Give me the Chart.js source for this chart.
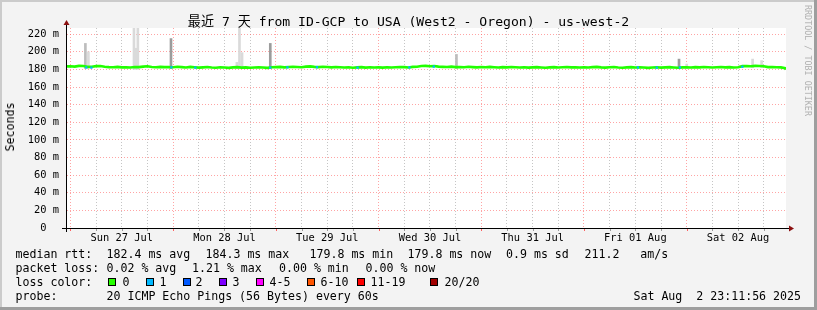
<!DOCTYPE html>
<html>
<head>
<meta charset="utf-8">
<script src="https://cdn.jsdelivr.net/npm/chart.js@4.4.1/dist/chart.umd.min.js"></script>
<style>
  html, body { margin: 0; padding: 0; background: #f3f3f3; }
  #wrap { position: relative; width: 817px; height: 310px; overflow: hidden;
          font-family: "DejaVu Sans Mono", "Noto Sans CJK SC", monospace; color: #000; }
  #wrap canvas { position: absolute; left: 0; top: 0; }
  .t { position: absolute; white-space: pre; font-size: 11.6px; line-height: 14px; }
  .box { position: absolute; width: 6px; height: 6px; border: 1px solid #000; }
  #title { position: absolute; left: 0; width: 817px; top: 14px; text-align: center;
           font-size: 13.1px; line-height: 16px; white-space: pre; }
  #ytitle { position: absolute; left: 10px; top: 127px; font-size: 11.6px; line-height: 14px;
            transform: translate(-50%, -50%) rotate(-90deg); white-space: pre; }
  #wm { position: absolute; left: 813px; top: 5px; font-size: 8.4px; line-height: 10px; color: #b0b0b0;
        transform-origin: left top; transform: rotate(90deg); white-space: pre; }
</style>
</head>
<body>
<div id="wrap">
  <canvas id="chart" width="817" height="310"></canvas>
  <div id="title">最近 7 天 from ID-GCP to USA (West2 - Oregon) - us-west-2</div>
  <div id="ytitle">Seconds</div>
  <div id="wm">RRDTOOL / TOBI OETIKER</div>
  <div id="footer"></div>
</div>
<script>
window.addEventListener('DOMContentLoaded', () => {
  /* data */
  const dayLabels = ['Sun 27 Jul', 'Mon 28 Jul', 'Tue 29 Jul', 'Wed 30 Jul', 'Thu 31 Jul', 'Fri 01 Aug', 'Sat 02 Aug'];
  const yTickValues = [0, 20, 40, 60, 80, 100, 120, 140, 160, 180, 200, 220];
  const yTickLabels = ['0  ', '20 m', '40 m', '60 m', '80 m', '100 m', '120 m', '140 m', '160 m', '180 m', '200 m', '220 m'];

  // hours since Sun 27 Jul 00:00
  const startHour = -0.8;
  const endHour = 167.2;
  const medianStart = 183.4;
  const medianHourly = [
    // Sun
    183.6, 183.2, 184.0, 183.8, 182.9, 183.1, 183.7, 183.9, 183.0, 182.6, 182.4, 182.9,
    182.3, 182.5, 182.1, 182.8, 182.6, 183.2, 183.5, 182.7, 182.4, 182.9, 182.6, 182.8,
    // Mon
    182.5, 183.0, 182.6, 182.2, 182.9, 182.4, 182.0, 182.3, 182.7, 182.1, 181.9, 182.4,
    182.2, 181.8, 182.3, 182.6, 182.0, 182.3, 181.9, 182.2, 182.5, 182.1, 181.8, 182.4,
    // Tue
    182.6, 182.9, 182.3, 182.7, 183.1, 182.8, 182.5, 183.2, 183.4, 182.9, 182.6, 183.0,
    182.7, 182.3, 182.8, 182.4, 182.1, 182.5, 181.9, 182.3, 182.6, 182.0, 182.4, 182.2,
    // Wed
    182.3, 182.0, 182.5, 182.1, 182.4, 182.8, 182.6, 182.2, 182.9, 183.0, 183.8, 184.0,
    183.6, 183.9, 183.2, 182.9, 182.7, 183.1, 182.6, 182.8, 182.4, 183.0, 182.6, 182.3,
    // Thu
    182.7, 182.4, 182.9, 182.5, 182.2, 182.6, 182.3, 182.8, 182.5, 182.1, 182.4, 182.0,
    182.3, 182.6, 182.2, 181.9, 182.3, 182.6, 182.1, 182.4, 182.7, 182.3, 182.5, 182.2,
    // Fri
    182.4, 182.1, 182.6, 182.9, 182.3, 182.0, 182.4, 182.7, 182.2, 181.9, 182.3, 182.6,
    182.1, 182.5, 182.2, 181.8, 182.2, 182.5, 182.0, 182.3, 182.6, 182.2, 181.9, 182.3,
    // Sat
    182.5, 182.2, 182.6, 182.3, 182.7, 182.4, 182.1, 182.5, 182.8, 182.3, 182.6, 182.2,
    182.4, 183.7, 183.9, 183.6, 184.0, 183.8, 183.5, 182.6, 182.8, 182.5, 182.3, 181.4
  ];
  const medianNow = 179.8;

  // 1/20 loss points
  const lossHours  = [3.7, 4.9, 23.6, 29.2, 46.7, 50.7, 57.6, 67.1, 79.2, 84.9, 132.6, 137.0, 142.4, 157.0];
  const lossMedian = [182.2, 182.0, 182.4, 182.0, 182.0, 182.3, 182.5, 182.0, 182.3, 183.2, 182.2, 182.0, 182.2, 183.0];

  // smoke (ping spread) spikes
  const smokeHours = [3.5, 4.2, 14.85, 15.3, 15.75, 23.5, 38.9, 39.5, 40.1, 46.7, 90.2, 142.2, 144.0, 159.4, 161.5];
  const smokeLow   = [181, 181, 180, 180, 180, 181, 181, 181, 181, 181, 181, 182, 181, 182, 182];
  const smokeHigh  = [209.5, 200, 228, 204, 228, 215, 188, 228, 199, 209.5, 197, 191.7, 186, 191.7, 190];
  const smokeShade = [2, 1, 1, 1, 1, 3, 1, 1, 1, 3, 2, 3, 1, 1, 1];

  const lossLabels = ['0', '1', '2', '3', '4-5', '6-10', '11-19', '20/20'];
  const lossColors = ['#26ff00', '#00b8ff', '#0059ff', '#7e00ff', '#ff00ff', '#ff5500', '#ff0000', '#a10000'];

  /* styles */
  const shadeColors = {1: '#dadada', 2: '#bdbdbd', 3: '#9c9c9c'};
  const majorGrid = 'rgba(255, 90, 90, 0.55)';
  const minorGrid = 'rgba(150, 150, 150, 0.55)';
  const axisFont = {family: 'DejaVu Sans Mono', size: 10.4};

  /* footer text */
  const footer = document.querySelector('#footer');
  const addText = (x, y, s, right) => {
    const d = document.createElement('div');
    d.className = 't';
    d.textContent = s;
    d.style.top = y + 'px';
    if (right) d.style.right = (817 - x) + 'px'; else d.style.left = x + 'px';
    footer.appendChild(d);
  };
  addText(15.5, 247, 'median rtt:');
  addText(106.5, 247, '182.4 ms avg');
  addText(205.5, 247, '184.3 ms max');
  addText(309.5, 247, '179.8 ms min');
  addText(407.5, 247, '179.8 ms now');
  addText(506, 247, '0.9 ms sd');
  addText(584.5, 247, '211.2   am/s');
  addText(15.5, 261, 'packet loss:');
  addText(106.5, 261, '0.02 % avg');
  addText(192, 261, '1.21 % max');
  addText(279, 261, '0.00 % min');
  addText(365.5, 261, '0.00 % now');
  addText(15.5, 275, 'loss color:');
  const boxX = [108, 146, 183, 219, 256, 307, 357, 430];
  const labelX = [122.5, 159.5, 195.5, 232.5, 269.5, 320.5, 370.5, 444.5];
  lossLabels.forEach((l, i) => {
    const b = document.createElement('div');
    b.className = 'box';
    b.style.left = boxX[i] + 'px';
    b.style.top = '278px';
    b.style.background = lossColors[i];
    footer.appendChild(b);
    addText(labelX[i], 275, l);
  });
  addText(15.5, 289, 'probe:');
  addText(106.5, 289, '20 ICMP Echo Pings (56 Bytes) every 60s');
  addText(801, 289, 'Sat Aug  2 23:11:56 2025', true);

  /* build series */
  const medianPoints = [{x: startHour, y: medianStart}];
  medianHourly.forEach((v, h) => medianPoints.push({x: h, y: v}));
  medianPoints.push({x: endHour, y: medianNow});

  const smokePoints = smokeHours.map((h, i) => ({x: h, y: [smokeLow[i], smokeHigh[i]], s: smokeShade[i]}));
  const lossPoints = lossHours.map((h, i) => ({x: h, y: lossMedian[i]}));

  const xGrid = [];
  for (let h = 0; h <= 162; h += 6) xGrid.push(h);
  const yGrid = [];
  for (let v = 0; v <= 220; v += 10) yGrid.push(v);

  /* background, frame and axes */
  const frame = {
    id: 'frame',
    beforeDraw(chart) {
      const {ctx, chartArea: a} = chart;
      ctx.save();
      ctx.fillStyle = '#f3f3f3';
      ctx.fillRect(0, 0, 817, 310);
      ctx.fillStyle = '#ffffff';
      ctx.fillRect(a.left, a.top, a.right - a.left, a.bottom - a.top);
      ctx.fillStyle = '#cbcbcb';
      ctx.fillRect(0, 0, 817, 2);
      ctx.fillRect(0, 0, 2, 310);
      ctx.fillStyle = '#9e9e9e';
      ctx.fillRect(0, 307, 817, 3);
      ctx.fillRect(814, 0, 3, 310);
      ctx.restore();
    },
    afterDatasetsDraw(chart) {
      const {ctx, chartArea: a, scales} = chart;
      ctx.save();
      // small marks under the x axis
      xGrid.forEach(h => {
        const px = Math.round(scales.x.getPixelForValue(h)) + 0.5;
        ctx.strokeStyle = h % 24 === 0 ? 'rgba(255,60,60,0.8)' : 'rgba(130,130,130,0.8)';
        ctx.beginPath();
        ctx.moveTo(px, a.bottom);
        ctx.lineTo(px, a.bottom + 3);
        ctx.stroke();
      });
      ctx.strokeStyle = '#000';
      ctx.lineWidth = 1;
      ctx.beginPath();
      ctx.moveTo(a.left - 0.5, a.bottom + 4);
      ctx.lineTo(a.left - 0.5, a.top - 5);
      ctx.moveTo(a.left - 5, a.bottom + 0.5);
      ctx.lineTo(a.right + 4, a.bottom + 0.5);
      ctx.stroke();
      ctx.fillStyle = '#8b1010';
      ctx.beginPath();
      ctx.moveTo(a.left - 3.5, a.top - 3);
      ctx.lineTo(a.left + 2.5, a.top - 3);
      ctx.lineTo(a.left - 0.5, a.top - 8);
      ctx.closePath();
      ctx.fill();
      ctx.beginPath();
      ctx.moveTo(a.right + 3, a.bottom - 2.5);
      ctx.lineTo(a.right + 3, a.bottom + 3.5);
      ctx.lineTo(a.right + 8, a.bottom + 0.5);
      ctx.closePath();
      ctx.fill();
      ctx.restore();
    }
  };

  new Chart(document.querySelector('#chart'), {
    type: 'line',
    data: {
      datasets: [{
        type: 'scatter',
        label: 'loss',
        data: lossPoints,
        pointStyle: 'rect',
        pointRadius: 1.6,
        pointBorderWidth: 0,
        pointBackgroundColor: lossColors[1],
        order: -1
      }, {
        type: 'line',
        label: 'median rtt',
        data: medianPoints,
        borderColor: '#22ff00',
        borderWidth: 2.6,
        pointRadius: 0,
        tension: 0,
        order: 0
      }, {
        type: 'bar',
        label: 'smoke',
        data: smokePoints,
        backgroundColor: ctx => shadeColors[ctx.raw ? ctx.raw.s : 1],
        borderWidth: 0,
        barThickness: 2,
        grouped: false,
        order: 2
      }]
    },
    options: {
      responsive: false,
      animation: false,
      devicePixelRatio: 1,
      layout: {padding: {left: 0, right: 31, top: 28, bottom: 0}},
      plugins: {
        legend: {display: false},
        tooltip: {enabled: false},
        title: {display: false}
      },
      scales: {
        x: {
          type: 'linear',
          min: startHour,
          max: endHour,
          offset: false,
          afterBuildTicks: s => { s.ticks = xGrid.map(v => ({value: v})); },
          afterFit: s => { s.height = 82; },
          ticks: {
            autoSkip: false,
            maxRotation: 0,
            padding: 4,
            color: '#000',
            font: axisFont,
            callback: v => (v % 24 === 12 ? dayLabels[(v - 12) / 24] : '')
          },
          grid: {
            offset: false,
            drawTicks: false,
            color: c => (c.tick && c.tick.value % 24 === 0 ? majorGrid : minorGrid)
          },
          border: {display: false, dash: [1, 2]}
        },
        y: {
          type: 'linear',
          min: 0,
          max: 227,
          afterBuildTicks: s => { s.ticks = yGrid.map(v => ({value: v})); },
          afterFit: s => { s.width = 67; },
          ticks: {
            padding: 8,
            color: '#000',
            font: axisFont,
            callback: v => {
              const i = yTickValues.indexOf(v);
              return i >= 0 ? yTickLabels[i] : '';
            }
          },
          grid: {
            drawTicks: false,
            color: c => (c.tick && c.tick.value % 20 === 0 ? majorGrid : minorGrid)
          },
          border: {display: false, dash: [1, 2]}
        }
      }
    },
    plugins: [frame]
  });
});
</script>
</body>
</html>
